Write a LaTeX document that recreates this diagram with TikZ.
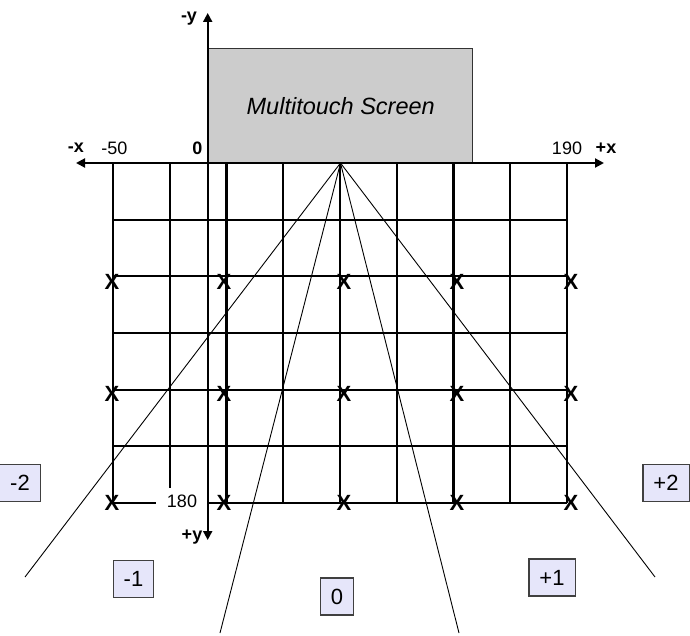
\documentclass[tikz,border=0pt]{standalone}
\usepackage{fontspec}
\setmainfont{Liberation Sans}
\usetikzlibrary{arrows.meta}
\definecolor{screengray}{RGB}{204,204,204}
\definecolor{zonefill}{RGB}{230,230,250}
\tikzset{
  gridline/.style={line width=2.1pt},
  axisline/.style={line width=2pt, {Triangle[length=9pt,width=9pt]}-{Triangle[length=9pt,width=9pt]}},
  fanline/.style={line width=0.9pt},
  zone/.style={draw=black!75, fill=zonefill, line width=1.1pt, font=\fontsize{22}{22}\selectfont, inner xsep=10.5pt, minimum height=37pt},
  axislabel/.style={font=\fontsize{18}{18}\selectfont\bfseries},
  ticklabel/.style={font=\fontsize{18}{18}\selectfont},
  xmark/.style={font=\fontsize{22}{22}\selectfont\bfseries, inner sep=0pt}
}
\begin{document}
\begin{tikzpicture}[x=1pt,y=-1pt]
\useasboundingbox (0,0) rectangle (690,636);

\node[draw=black!80, fill=screengray, line width=1.4pt, minimum width=264pt, minimum height=114pt, inner sep=0pt, anchor=north west, font=\fontsize{23.5}{23.5}\selectfont\itshape] (screen) at (208,48) {Multitouch Screen};

\foreach \i in {0,...,8}
  \draw[gridline] ({113+56.75*\i},163) -- ({113+56.75*\i},503);
\foreach \j in {1,...,6}
  \draw[gridline] (113,{163+56.67*\j}) -- (567,{163+56.67*\j});

\node[ticklabel, fill=white, inner xsep=11pt, inner ysep=7pt] (ymax) at (182,501) {180};

\coordinate (xminus) at (76,163);
\coordinate (xplus) at (604,163);
\coordinate (yminus) at (207.7,13);
\coordinate (yplus) at (207.7,540);
\draw[axisline] (xminus) -- (xplus);
\draw[axisline] (yminus) -- (yplus);

\coordinate (apex) at (340.5,163);
\coordinate (fanA) at (25,577);
\coordinate (fanB) at (220,633);
\coordinate (fanC) at (459,633);
\coordinate (fanD) at (655,577);
\foreach \e in {fanA,fanB,fanC,fanD}
  \draw[fanline] (apex) -- (\e);

\foreach \c/\x in {0/112,2/224,4/344,6/457,8/571}
  \foreach \r/\y in {2/281.5,4/393.5,6/503}
    \node[xmark] (hit-\c-\r) at (\x,\y) {X};

\node[axislabel] (yminuslabel) at (189,19) {-y};
\node[axislabel] (xminuslabel) at (76,148) {-x};
\node[ticklabel] (xmin) at (114.5,148) {-50};
\node[axislabel] (origin) at (197.5,148) {0};
\node[ticklabel] (xmax) at (567,148) {190};
\node[axislabel] (xpluslabel) at (606,148) {+x};
\node[axislabel] (ypluslabel) at (192,537) {+y};

\node[zone] (zoneminustwo) at (20,483) {-2};
\node[zone] (zoneminusone) at (133.5,579) {-1};
\node[zone] (zonezero) at (337,596.5) {0};
\node[zone] (zoneplusone) at (552,577.5) {+1};
\node[zone] (zoneplustwo) at (666,483) {+2};
\end{tikzpicture}
\end{document}
